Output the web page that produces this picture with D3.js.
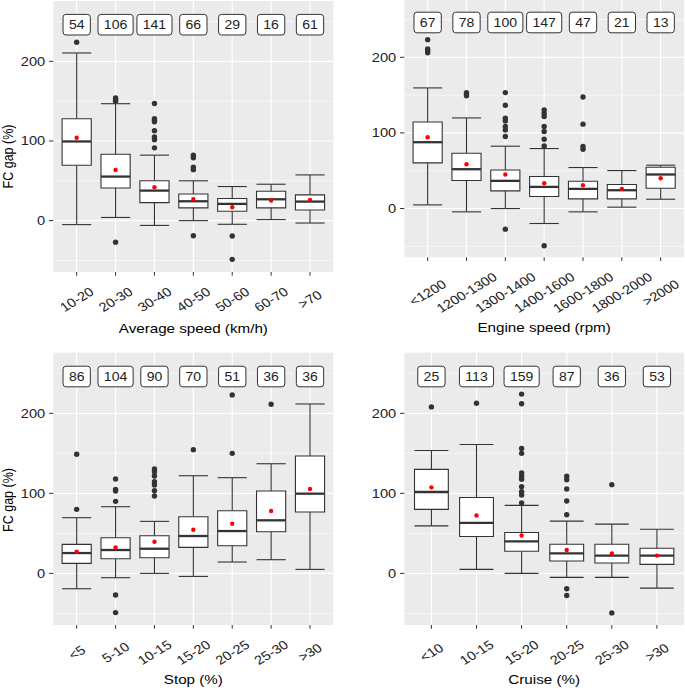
<!DOCTYPE html>
<html>
<head>
<meta charset="utf-8">
<script src="https://cdn.jsdelivr.net/npm/d3@7/dist/d3.min.js"></script>
<style>
  html, body { margin: 0; padding: 0; background: #ffffff; }
  svg { display: block; font-family: Arial, "Liberation Sans", sans-serif; }
</style>
</head>
<body>
<svg id="chart" width="685" height="688"></svg>
<script>
// ---------------- DATA ----------------
const yTicks = [0, 100, 200];
const yMinor = [-50, 50, 150, 250];
const countLabelY = 246;

// Panel 1: Average speed
const cats1 = ["10-20", "20-30", "30-40", "40-50", "50-60", "60-70", ">70"];
const n1    = [54, 106, 141, 66, 29, 16, 61];
const lo1   = [-5, 4, -6, 0, -4.6, 1.3, -3];
const q1_1  = [69.6, 41, 22.6, 16, 11.7, 16, 13.4];
const med1  = [99.4, 55.3, 37.7, 24.3, 21, 26.8, 23.9];
const q3_1  = [128, 83.4, 50, 33.5, 27.7, 36.9, 32.3];
const hi1   = [210.5, 146.8, 82.2, 50, 42.8, 45.7, 57.4];
const mean1 = [104, 63.7, 42, 27, 16.8, 25.2, 26];
const out1  = [[224], [154, 152, 150, -27], [147, 128, 126, 124, 113, 105, 101.5, 91.4],
               [82, 79, 67, 64, -19], [-19.3, -48.6], [], []];

// Panel 2: Engine speed
const cats2 = ["<1200", "1200-1300", "1300-1400", "1400-1600", "1600-1800", "1800-2000", ">2000"];
const n2    = [67, 78, 100, 147, 47, 21, 13];
const lo2   = [4.8, -4.4, 0, -19.8, -4.4, 1.8, 12.3];
const q1_2  = [60.4, 37, 23.3, 15.9, 12.8, 12.8, 26.9];
const med2  = [87.7, 52, 36.6, 28.6, 26, 24.2, 45];
const q3_2  = [114.5, 73, 51, 42.3, 36.1, 31.7, 54.6];
const hi2   = [159.5, 119.8, 82.4, 79.3, 54.2, 50.2, 57.3];
const mean2 = [94.3, 58.6, 45, 33.5, 30.8, 26, 40];
const out2  = [[223.3, 211, 208.8, 206], [153.3, 151, 149],
               [153.3, 136.6, 119.4, 115.9, 108.4, 104, 95.2, -27.3],
               [130.4, 126, 121.6, 108.4, 101.8, 91.6, 82.6, -49.3],
               [147.5, 111.6, 82, 78.4], [], []];

// Panel 3: Stop
const cats3 = ["<5", "5-10", "10-15", "15-20", "20-25", "25-30", ">30"];
const n3    = [86, 104, 90, 70, 51, 36, 36];
const lo3   = [-19.2, -5.4, 0, -3.8, 14.2, 17.1, 5];
const q1_3  = [12.5, 18.3, 19.6, 32.5, 34.6, 52, 76.7];
const med3  = [25.4, 29.2, 30.8, 46.7, 52.9, 66.3, 99.6];
const q3_3  = [36.3, 44.6, 47, 70.8, 78.3, 103, 146.7];
const hi3   = [69.6, 83.3, 65, 122, 119.6, 137, 211.7];
const mean3 = [27, 32.5, 39.6, 54.6, 62, 78, 105.4];
const out3  = [[148.8, 80], [118, 105, 103, 90, -27, -49],
               [130.4, 127, 121.7, 114.6, 110.4, 103.3, 96.7], [154.6], [223, 150], [211.3], []];

// Panel 4: Cruise
const cats4 = ["<10", "10-15", "15-20", "20-25", "25-30", ">30"];
const n4    = [25, 113, 159, 87, 36, 53];
const lo4   = [59.4, 5, 0, -5, -5, -18.4];
const q1_4  = [80, 46, 27.6, 15.5, 13, 11.3];
const med4  = [101.7, 63, 40, 25, 22.2, 22.2];
const q3_4  = [130, 94.8, 51, 36.4, 36.4, 31.4];
const hi4   = [153.6, 161, 85, 65.3, 61.5, 55.2];
const mean4 = [107.5, 72.4, 47.3, 29.3, 25, 22.2];
const out4  = [[208], [212.5], [224, 212, 156, 150, 125.5, 121, 117.6, 108.4, 102, 98, 88],
               [121.3, 117, 105.4, 90.4, 73.2, -19.2, -27.6], [110.9, -49.4], []];

const yTitle = "FC gap (%)";
const xTitles = ["Average speed (km/h)", "Engine speed (rpm)", "Stop (%)", "Cruise (%)"];

// ---------------- LAYOUT ----------------
const SX = 1.17; // horizontal stretch of the original figure
const yDomain = [-64.5, 275.75];
const panels = [
  { cats: cats1, n: n1, lo: lo1, q1: q1_1, med: med1, q3: q3_1, hi: hi1, mean: mean1, out: out1,
    left: 45.6, right: 284.9, top: 1, bottom: 272, xTitle: xTitles[0], xTitleY: 333, yTitleY: 156.5 },
  { cats: cats2, n: n2, lo: lo2, q1: q1_2, med: med2, q3: q3_2, hi: hi2, mean: mean2, out: out2,
    left: 345.6, right: 584.6, top: 0, bottom: 257.3, xTitle: xTitles[1], xTitleY: 332, yTitleY: null },
  { cats: cats3, n: n3, lo: lo3, q1: q1_3, med: med3, q3: q3_3, hi: hi3, mean: mean3, out: out3,
    left: 45.6, right: 284.9, top: 352.7, bottom: 625, xTitle: xTitles[2], xTitleY: 684, yTitleY: 500 },
  { cats: cats4, n: n4, lo: lo4, q1: q1_4, med: med4, q3: q3_4, hi: hi4, mean: mean4, out: out4,
    left: 345.6, right: 584.6, top: 352.7, bottom: 625, xTitle: xTitles[3], xTitleY: 684, yTitleY: null }
];

const ink = "#333333";
const txt = "#222222";
const svg = d3.select("#chart");
svg.append("rect").attr("width", 685).attr("height", 688).attr("fill", "#ffffff");
const root = svg.append("g").attr("transform", `scale(${SX},1)`);

function drawPanel(p) {
  const g = root.append("g");
  const x = d3.scalePoint().domain(p.cats).range([p.left, p.right]).padding(0.6);
  const y = d3.scaleLinear().domain(yDomain).range([p.bottom, p.top]);
  const step = x.step();
  const bw = step * 0.75;

  // background
  g.append("rect").attr("x", p.left).attr("y", p.top)
    .attr("width", p.right - p.left).attr("height", p.bottom - p.top).attr("fill", "#ebebeb");

  // grid
  g.selectAll(".minor").data(yMinor).join("line")
    .attr("x1", p.left).attr("x2", p.right).attr("y1", d => y(d)).attr("y2", d => y(d))
    .attr("stroke", "#ffffff").attr("stroke-width", 0.6).attr("vector-effect", "non-scaling-stroke");
  g.selectAll(".major").data(yTicks).join("line")
    .attr("x1", p.left).attr("x2", p.right).attr("y1", d => y(d)).attr("y2", d => y(d))
    .attr("stroke", "#ffffff").attr("stroke-width", 1.2).attr("vector-effect", "non-scaling-stroke");
  g.selectAll(".vmajor").data(p.cats).join("line")
    .attr("x1", d => x(d)).attr("x2", d => x(d)).attr("y1", p.top).attr("y2", p.bottom)
    .attr("stroke", "#ffffff").attr("stroke-width", 1.2).attr("vector-effect", "non-scaling-stroke");

  // y axis ticks + labels
  g.selectAll(".ytick").data(yTicks).join("line")
    .attr("x1", p.left - 3.7).attr("x2", p.left).attr("y1", d => y(d)).attr("y2", d => y(d))
    .attr("stroke", ink).attr("stroke-width", 1).attr("vector-effect", "non-scaling-stroke");
  g.selectAll(".ylab").data(yTicks).join("text")
    .attr("x", p.left - 7).attr("y", d => y(d)).attr("dy", "0.36em")
    .attr("text-anchor", "end").attr("font-size", 12.5).attr("fill", txt).text(d => d);

  // x axis ticks
  g.selectAll(".xtick").data(p.cats).join("line")
    .attr("x1", d => x(d)).attr("x2", d => x(d)).attr("y1", p.bottom).attr("y2", p.bottom + 3.7)
    .attr("stroke", ink).attr("stroke-width", 1).attr("vector-effect", "non-scaling-stroke");

  // x tick labels rotated
  const ANG = 35;
  const tmp = g.append("text").attr("font-size", 12.5).text("");
  let maxL = 0;
  p.cats.forEach(c => { tmp.text(c); maxL = Math.max(maxL, tmp.node().getComputedTextLength()); });
  tmp.remove();
  const rad = ANG * Math.PI / 180;
  const off = 13 + (maxL / 2) * Math.sin(rad) + 6.25 * Math.cos(rad);
  g.selectAll(".xlab").data(p.cats).join("text")
    .attr("transform", d => `translate(${x(d)},${p.bottom + off}) rotate(-${ANG})`)
    .attr("text-anchor", "middle").attr("dy", "0.36em")
    .attr("font-size", 12.5).attr("fill", txt).text(d => d);

  // boxes
  const idx = d3.range(p.cats.length);
  const bx = g.selectAll(".box").data(idx).join("g");
  // whiskers
  bx.append("line").attr("x1", i => x(p.cats[i])).attr("x2", i => x(p.cats[i]))
    .attr("y1", i => y(p.q3[i])).attr("y2", i => y(p.hi[i]))
    .attr("stroke", ink).attr("stroke-width", 1.1).attr("vector-effect", "non-scaling-stroke");
  bx.append("line").attr("x1", i => x(p.cats[i])).attr("x2", i => x(p.cats[i]))
    .attr("y1", i => y(p.q1[i])).attr("y2", i => y(p.lo[i]))
    .attr("stroke", ink).attr("stroke-width", 1.1).attr("vector-effect", "non-scaling-stroke");
  // caps
  [p.hi, p.lo].forEach(arr => {
    bx.append("line").attr("x1", i => x(p.cats[i]) - bw / 2).attr("x2", i => x(p.cats[i]) + bw / 2)
      .attr("y1", i => y(arr[i])).attr("y2", i => y(arr[i]))
      .attr("stroke", ink).attr("stroke-width", 1.1).attr("vector-effect", "non-scaling-stroke");
  });
  // box
  bx.append("rect").attr("x", i => x(p.cats[i]) - bw / 2).attr("width", bw)
    .attr("y", i => y(p.q3[i])).attr("height", i => y(p.q1[i]) - y(p.q3[i]))
    .attr("fill", "#ffffff").attr("stroke", ink).attr("stroke-width", 1.1)
    .attr("vector-effect", "non-scaling-stroke");
  // median
  bx.append("line").attr("x1", i => x(p.cats[i]) - bw / 2).attr("x2", i => x(p.cats[i]) + bw / 2)
    .attr("y1", i => y(p.med[i])).attr("y2", i => y(p.med[i]))
    .attr("stroke", ink).attr("stroke-width", 2.3).attr("vector-effect", "non-scaling-stroke");
  // outliers
  const outs = [];
  idx.forEach(i => p.out[i].forEach(v => outs.push({ c: p.cats[i], v })));
  g.selectAll(".out").data(outs).join("ellipse")
    .attr("cx", d => x(d.c)).attr("cy", d => y(d.v))
    .attr("rx", 2.7 / SX).attr("ry", 2.7).attr("fill", ink);
  // means
  g.selectAll(".mean").data(idx).join("ellipse")
    .attr("cx", i => x(p.cats[i])).attr("cy", i => y(p.mean[i]))
    .attr("rx", 2.2 / SX).attr("ry", 2.2).attr("fill", "#ff0000");

  // count labels
  const lab = g.selectAll(".lab").data(idx).join("g")
    .attr("transform", i => `translate(${x(p.cats[i])},${y(countLabelY)})`);
  lab.each(function (i) {
    const gg = d3.select(this);
    const t = gg.append("text").attr("text-anchor", "middle").attr("dy", "0.36em")
      .attr("font-size", 12).attr("fill", txt).text(p.n[i]);
    const w = t.node().getComputedTextLength() + 10;
    gg.insert("rect", "text").attr("x", -w / 2).attr("y", -10.3).attr("width", w).attr("height", 20.6)
      .attr("rx", 2.8 / SX).attr("ry", 3)
      .attr("fill", "#ffffff").attr("stroke", ink).attr("stroke-width", 1)
      .attr("vector-effect", "non-scaling-stroke");
  });

  // titles
  g.append("text").attr("x", (p.left + p.right) / 2).attr("y", p.xTitleY)
    .attr("text-anchor", "middle").attr("font-size", 13).attr("fill", "#000000").text(p.xTitle);
  if (p.yTitleY !== null) {
    g.append("text").attr("transform", `translate(11,${p.yTitleY}) rotate(-90)`)
      .attr("text-anchor", "middle").attr("font-size", 12.5).attr("fill", "#000000").text(yTitle);
  }
}

panels.forEach(drawPanel);
</script>
</body>
</html>
